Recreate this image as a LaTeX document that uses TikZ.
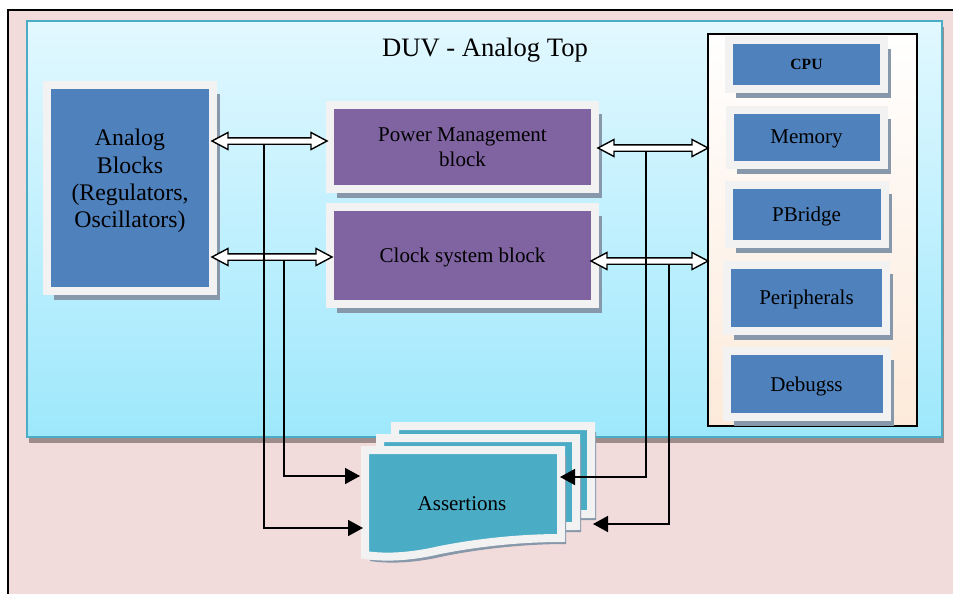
\documentclass[tikz,border=0pt]{standalone}
\usepackage{fontspec}
\setmainfont{Liberation Serif}
\usepackage{tikz}
\usetikzlibrary{arrows.meta, positioning, calc, shadows}
\definecolor{pinkbg}{RGB}{242, 220, 219}
\definecolor{framegray}{RGB}{242, 242, 242}
\definecolor{shadowgray}{RGB}{135, 152, 170}
\definecolor{duvshadow}{RGB}{158, 140, 138}
\definecolor{duvtop}{RGB}{226, 248, 255}
\definecolor{duvbottom}{RGB}{158, 232, 252}
\definecolor{cyanedge}{RGB}{75, 172, 198}
\definecolor{blockblue}{RGB}{79, 129, 189}
\definecolor{blockpurple}{RGB}{128, 100, 162}
\definecolor{docteal}{RGB}{75, 172, 198}
\definecolor{socpeach}{RGB}{253, 234, 218}

% hollow double-headed bus arrow between two points at the same height
\newcommand{\busarrow}[2]{%
  \draw[bus] let \p1=(#1), \p2=(#2) in
    (\x1,\y1) -- (\x1+8pt,\y1+4.25pt) -- (\x1+8pt,\y1+1.6pt) -- (\x2-8pt,\y1+1.6pt)
    -- (\x2-8pt,\y1+4.25pt) -- (\x2,\y1) -- (\x2-8pt,\y1-4.25pt) -- (\x2-8pt,\y1-1.6pt)
    -- (\x1+8pt,\y1-1.6pt) -- (\x1+8pt,\y1-4.25pt) -- cycle;}

% one sheet of the assertions stack
\newcommand{\docsheet}[2]{%
  \draw[sheet, shift={(#1,#2)}] (365,450) -- (561,450) -- (561,538)
    .. controls (510,538) and (465,545) .. (440,550)
    .. controls (410,557) and (385,558) .. (365,555) -- cycle;}

\begin{document}
\begin{tikzpicture}[
    x=0.5pt, y=-0.5pt,
    block/.style={draw=framegray, line width=4pt, outer sep=2pt, inner sep=0pt, align=center,
      text depth=0pt, font=\fontsize{10.5}{12.5}\selectfont,
      drop shadow={shadow xshift=3.5pt, shadow yshift=-4.5pt, fill=shadowgray, opacity=1}},
    chip/.style={block, fill=blockblue},
    ctrl/.style={block, fill=blockpurple},
    sheet/.style={draw=framegray, fill=docteal, line width=4pt,
      drop shadow={shadow xshift=2.5pt, shadow yshift=-3pt, fill=shadowgray, opacity=1}},
    duvbox/.style={draw=cyanedge, line width=0.75pt, inner sep=0pt, top color=duvtop, bottom color=duvbottom,
      drop shadow={shadow xshift=1pt, shadow yshift=-3pt, fill=duvshadow, opacity=1}},
    panel/.style={draw=black, line width=0.75pt, inner sep=0pt, top color=white, bottom color=socpeach},
    bus/.style={draw=black, fill=white, line width=0.7pt},
    link/.style={-{Triangle[length=7.5pt, width=8pt]}, line width=0.8pt}
]
    \useasboundingbox (0,0) rectangle (953,594);
    % Background
    \fill[pinkbg] (8,10) rectangle (953,594);
    \draw[line width=1pt] (8,594) -- (8,10) -- (953,10);

    % Nodes - DUV frame
    \node[duvbox, minimum width=457.5pt, minimum height=208pt] (duv) at (484.5,229) {};
    \node[font=\fontsize{13.3}{16}\selectfont] (title) at (485,50) {DUV - Analog Top};

    % Nodes - left and middle
    \node[chip, minimum width=83pt, minimum height=103pt] (analog) at (130,188) {};
    \node[font=\fontsize{11.9}{13.6}\selectfont, align=center] (analogtxt) at (130,181) {Analog\\Blocks\\(Regulators,\\Oscillators)};
    \node[ctrl, minimum width=132.5pt, minimum height=42pt] (power) at (462.5,147) {Power Management\\block};
    \node[ctrl, minimum width=132.5pt, minimum height=48.5pt, below=5pt of power] (clock) {Clock system block};

    % Nodes - digital column
    \node[panel, minimum width=104.5pt, minimum height=196pt] (soc) at (812.5,230) {};
    \node[chip, minimum width=77.5pt, minimum height=24.5pt, font=\bfseries\fontsize{7.8}{9}\selectfont] (cpu) at (806.5,64.5) {CPU};
    \node[chip, minimum width=77pt, minimum height=27.5pt, below=6.25pt of cpu] (memory) {Memory};
    \node[chip, minimum width=78pt, minimum height=29.5pt, below=6.25pt of memory] (pbridge) {PBridge};
    \node[chip, minimum width=79.5pt, minimum height=33pt, below=6.25pt of pbridge] (periph) {Peripherals};
    \node[chip, minimum width=80pt, minimum height=33pt, below=6.25pt of periph] (debugss) {Debugss};

    % Bus arrows
    \coordinate (a1l) at (212,141); \coordinate (a1r) at (327,141);
    \coordinate (a2l) at (212,257); \coordinate (a2r) at (332,257);
    \coordinate (a3l) at (598,148); \coordinate (a3r) at (708,148);
    \coordinate (a4l) at (591,261); \coordinate (a4r) at (708,261);
    \busarrow{a1l}{a1r}
    \busarrow{a2l}{a2r}
    \busarrow{a3l}{a3r}
    \busarrow{a4l}{a4r}

    % Assertions stack
    \docsheet{30}{-24}
    \docsheet{15}{-12}
    \docsheet{0}{0}
    \node[font=\fontsize{10.5}{12.5}\selectfont] (assert) at (462,504) {Assertions};

    % Taps into the assertions
    \coordinate (tap1) at (264,144.2); \coordinate (tap2) at (284,260.2);
    \coordinate (tap3) at (646,151.2); \coordinate (tap4) at (669,264.2);
    \coordinate (in1) at (360,476); \coordinate (in2) at (363,528);
    \coordinate (in3) at (560,477); \coordinate (in4) at (593,524);
    \draw[link] (tap1) |- (in2);
    \draw[link] (tap2) |- (in1);
    \draw[link] (tap3) |- (in3);
    \draw[link] (tap4) |- (in4);
\end{tikzpicture}
\end{document}
